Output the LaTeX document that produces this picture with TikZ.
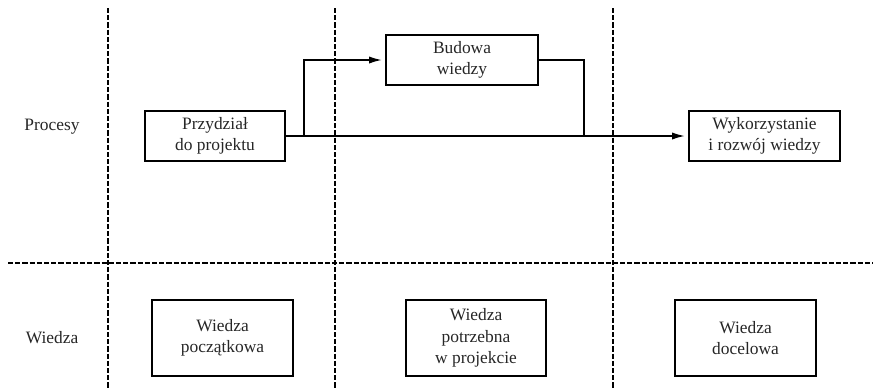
\documentclass[tikz,border=0pt]{standalone}
\usepackage{fontspec}
\setmainfont{Liberation Serif}
\usetikzlibrary{arrows.meta}
\begin{document}
\begin{tikzpicture}[x=0.5pt,y=-0.5pt,
  every node/.style={font=\fontsize{8.7pt}{10.8pt}\selectfont, text=black!85, align=center},
  box/.style={draw=black, line width=0.9pt, inner sep=0pt, minimum height=25pt},
  kbox/.style={box, minimum width=70.5pt, minimum height=38pt},
  flow/.style={line width=0.9pt},
  arr/.style={flow, -{Latex[length=6.5pt,width=3.6pt]}, shorten >=1.5pt},
  lane/.style={line width=0.55pt, dash pattern=on 2.6pt off 1pt}]
\useasboundingbox (0,0) rectangle (873,388);

% swimlane separators
\draw[lane] (108,8) -- (108,388);
\draw[lane] (335,8) -- (335,388);
\draw[lane] (613,8) -- (613,388);
\draw[lane] (8,263) -- (873,263);

% row labels
\node (lproc) at (52,127) {Procesy};
\node (lwied) at (52,338) {Wiedza};

% processes
\node[box, minimum width=70pt] (prz) at (215,136) {Przydział\\do projektu};
\node[box, minimum width=76pt] (bud) at (462,60) {Budowa\\wiedzy};
\node[box, minimum width=75.5pt] (wyk) at (764.5,136) {Wykorzystanie\\i rozwój wiedzy};

% knowledge
\node[kbox] (kpocz) at (222.5,338) {Wiedza\\początkowa};
\node[kbox, minimum width=70pt] (kpotr) at (476,338) {Wiedza\\potrzebna\\w projekcie};
\node[kbox] (kdoc) at (745.5,338) {Wiedza\\docelowa};

% flows
\coordinate (split) at (304,136);
\coordinate (join) at (584,136);
\draw[arr] (prz.east) -- (wyk.west);
\draw[arr] (split) |- (bud.west);
\draw[flow] (bud.east) -| (join);
\end{tikzpicture}
\end{document}
